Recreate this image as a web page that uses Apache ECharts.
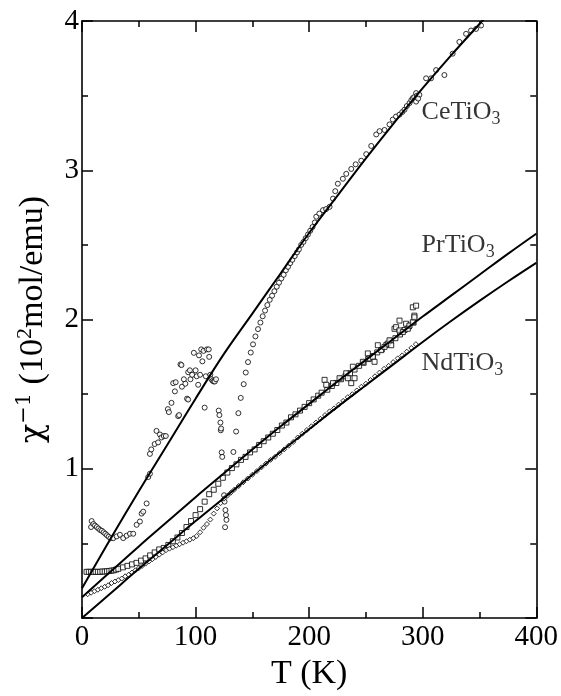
<!DOCTYPE html>
<html><head><meta charset="utf-8">
<script src="https://cdn.jsdelivr.net/npm/echarts@6.0.0/dist/echarts.min.js"></script>
<style>html,body{margin:0;padding:0;background:#fff}#c{width:561px;height:696px}</style>
</head><body><div id="c"></div>
<script>
// Tick values
const xTicks = [0, 100, 200, 300, 400];
const yTicks = [0, 1, 2, 3, 4];

// Fit curves, temperature grid
const fitT = [0,25,50,75,100,125,150,175,200,225,250,275,300,325,350,375,400];
const ceFit = [0.20,0.53,0.85,1.16,1.47,1.77,2.04,2.31,2.58,2.83,3.08,3.32,3.55,3.77,3.98,4.19,null];
const prFit = [0.14,0.31,0.48,0.645,0.81,0.97,1.13,1.285,1.435,1.585,1.73,1.875,2.02,2.16,2.30,2.44,2.575];
const ndFit = [0.00,0.165,0.33,0.49,0.65,0.805,0.96,1.115,1.265,1.415,1.56,1.705,1.85,1.99,2.125,2.255,2.38];

// CeTiO3 data [T, chi^-1]
const ceData = [
[8,0.61],[8.5,0.65],[10,0.63],[11.5,0.62],[13,0.61],[14.5,0.60],[16,0.59],[17.5,0.585],[19,0.575],[20.5,0.565],[22,0.555],[23.5,0.545],[25,0.535],[27.5,0.535],[30.5,0.547],[33.4,0.558],[36.3,0.536],[39.3,0.552],[42.2,0.565],[45.1,0.565],[48.1,0.625],[51,0.647],[52.5,0.70],[53.9,0.713],[56.9,0.768],[58.3,0.945],[59.8,0.967],[59.8,1.10],[61,1.13],[64,1.166],[65.6,1.254],[67,1.177],[68.6,1.23],[70,1.21],[72,1.22],[73.8,1.22],[75.6,1.40],[76.5,1.38],[78.8,1.442],[80.3,1.574],[81.8,1.519],[82.5,1.58],[84.7,1.353],[85.5,1.36],[86.7,1.70],[87.6,1.695],[88,1.55],[89.7,1.60],[91,1.57],[92.5,1.47],[93.5,1.464],[93.5,1.647],[95,1.66],[95.5,1.60],[97,1.63],[98.5,1.777],[100,1.66],[101,1.62],[102.3,1.563],[103,1.76],[104,1.63],[105,1.80],[106,1.72],[107,1.79],[108,1.41],[109,1.62],[110,1.80],[111.6,1.80],[112,1.75],[113,1.63],[114,1.60],[115,1.59],[116,1.585],[117,1.585],[118,1.60],[120.4,1.39],[121,1.36],[121.9,1.31],[122.2,1.258],[122.5,1.27],[123,1.11],[123.5,1.08],[125.1,0.823],[125.5,0.78],[126.3,0.724],[126.8,0.69],[127.2,0.658],[126,0.609],
[133.3,1.113],[135.7,1.25],[137.7,1.373],[139.8,1.475],[142.4,1.567],[144.2,1.645],[146.2,1.715],[148.6,1.779],[150.6,1.834],[152.7,1.887],[155,1.936],[157.1,1.98],[159.1,2.022],[161.2,2.06],[163.2,2.097],[165.3,2.132],[167.4,2.16],[169.4,2.19],[171.5,2.22],[173.5,2.247],[175.5,2.275],[177.6,2.30],[179.5,2.33],[181.4,2.353],[183.3,2.378],[185.2,2.40],[187.3,2.425],[189.3,2.45],[191,2.47],[193,2.50],[195,2.52],[197,2.545],[199,2.57],[201,2.595],[203,2.62],[205,2.65],[206.3,2.689],[209,2.71],[212.2,2.733],[215,2.74],[218,2.755],[221,2.81],[223,2.86],[225.3,2.91],[229.7,2.943],[232.7,2.976],[237.1,3.009],[241,3.04],[245.9,3.064],[250.3,3.108],[254.7,3.163],[259.1,3.24],[262,3.262],[266.4,3.27],[270.8,3.307],[273.7,3.34],[276.5,3.36],[279.6,3.373],[282,3.39],[284,3.406],[286,3.43],[288.4,3.45],[290,3.47],[291.3,3.483],[292.5,3.49],[294.2,3.517],[295,3.50],[297.1,3.505],[294.2,3.46],[296,3.48],[303,3.616],[307.4,3.616],[311.8,3.671],[319.1,3.638],[326.4,3.781],[332.3,3.86],[338.2,3.914],[342.6,3.936],[347,3.947],[351.4,3.97]
];

// PrTiO3 data [T, chi^-1]
const prData = [
[4,0.31],[6,0.31],[8,0.31],[10,0.31],[12,0.31],[14,0.31],[16,0.31],[18,0.312],[20,0.312],[22,0.314],[24,0.316],[26,0.318],[28,0.32],[30,0.325],
[32,0.33],[36,0.34],[40,0.35],[44,0.36],[48,0.37],[52,0.385],[56,0.40],[60,0.42],[64,0.44],[68,0.46],[72,0.47],[76,0.49],[80,0.515],[84,0.54],[88,0.57],[92,0.61],[96,0.65],[100,0.69],[104,0.73],[108,0.78],[112,0.83],
[116,0.86],[120,0.90],[124,0.94],[128,0.975],[132,1.005],[136,1.03],[140,1.06],[144,1.08],[148,1.11],[152,1.13],[156,1.16],[160,1.185],[164,1.21],[168,1.235],[172,1.26],[176,1.29],[180,1.31],[184,1.345],[188,1.365],[192,1.39],[196,1.415],[200,1.44],[204,1.465],[208,1.49],[211,1.51],
[216,1.53],[220,1.555],[224,1.575],[228,1.60],[232,1.62],[236,1.64],[240,1.665],[244,1.69],[248,1.71],[252,1.735],[256,1.755],[260,1.78],[264,1.80],[268,1.83],[272,1.855],[276,1.875],[280,1.90],[284,1.93],[288,1.955],[292,1.98],
[213.6,1.596],[215.1,1.563],[221,1.574],[226.8,1.607],[232.7,1.64],[234.1,1.607],[237.1,1.574],[240,1.607],[238.5,1.684],[247.3,1.717],[251.7,1.773],[253.2,1.74],[256.1,1.75],[257.6,1.717],[260.5,1.828],[263.4,1.795],[266.4,1.817],[269.3,1.839],[272.3,1.828],[270.8,1.861],[275.2,1.938],[276.6,1.949],[279.6,1.993],[279.6,1.927],[282.5,1.916],[285.4,1.972],[286.9,1.938],[288.4,1.96],[291.3,1.982],[292.7,2.026],[291.3,2.082],[294.2,2.093],[292.7,2.015]
];

// NdTiO3 data [T, chi^-1]
const ndData = [
[5,0.16],[8,0.17],[11,0.18],[14,0.19],[17,0.20],[20,0.21],[23,0.22],[26,0.235],[29,0.245],[32,0.255],[35,0.265],[38,0.28],[41,0.29],[44,0.305],[47,0.32],[50,0.335],[53,0.35],[56,0.365],[59,0.38],[62,0.395],[65,0.41],[68,0.425],[71,0.44],[74,0.455],[77,0.465],[80,0.475],[83,0.485],[86,0.495],[89,0.505],[92,0.515],[95,0.525],[98,0.535],[101,0.55],[104,0.575],[107,0.605],[110,0.63],[113,0.66],[116,0.70],[119,0.735],[122,0.77],[125,0.80],[128,0.82],
[131,0.84],[134,0.86],[138,0.885],[142,0.91],[146,0.935],[150,0.96],[154,0.985],[158,1.01],[162,1.035],[166,1.06],[170,1.08],[174,1.105],[178,1.13],[182,1.155],[186,1.18],[190,1.21],[194,1.235],[198,1.26],[202,1.285],[206,1.31],[210,1.335],[214,1.36],[218,1.385],[222,1.405],[226,1.43],[230,1.455],[234,1.48],[238,1.50],[242,1.525],[246,1.55],[250,1.57],[254,1.595],[258,1.62],[262,1.645],[266,1.67],[270,1.69],[274,1.715],[278,1.74],[282,1.76],[286,1.785],[290,1.81],[294,1.835]
];

// Compound labels
const labelNames = ['CeTiO', 'PrTiO', 'NdTiO'];
const labelSub = ['3', '3', '3'];
const labelAnchors = [[299, 3.34], [299, 2.45], [299, 1.66]];

const FONT = 'Liberation Serif';
const GREEK = 'DejaVu Serif';
const zip = (xs, ys) => xs.map((x, i) => [x, ys[i]]);

const chart = echarts.init(document.getElementById('c'), null, {renderer: 'canvas'});

function xAx(pos, showLabel) {
  return {
    type: 'value', position: pos, min: xTicks[0], max: xTicks[xTicks.length-1], interval: 100,
    axisLine: {show: true, onZero: false, lineStyle: {color: '#000', width: 1.6}},
    axisTick: {show: true, inside: true, length: 11, lineStyle: {color: '#000', width: 1.5}},
    minorTick: {show: true, splitNumber: 2, length: 6, lineStyle: {color: '#000', width: 1.5}},
    splitLine: {show: false}, minorSplitLine: {show: false},
    axisLabel: {show: showLabel, fontFamily: FONT, fontSize: 29, color: '#000', margin: 5},
    name: showLabel ? 'T (K)' : '', nameLocation: 'middle', nameGap: 35,
    nameTextStyle: {fontFamily: FONT, fontSize: 34, color: '#000'}
  };
}
function yAx(pos, showLabel) {
  return {
    type: 'value', position: pos, min: yTicks[0], max: yTicks[yTicks.length-1], interval: 1,
    axisLine: {show: true, onZero: false, lineStyle: {color: '#000', width: 1.6}},
    axisTick: {show: true, inside: true, length: 11, lineStyle: {color: '#000', width: 1.5}},
    minorTick: {show: true, splitNumber: 2, length: 6, lineStyle: {color: '#000', width: 1.5}},
    splitLine: {show: false}, minorSplitLine: {show: false},
    axisLabel: {show: showLabel, fontFamily: FONT, fontSize: 29, color: '#000', margin: 3,
      formatter: v => v === 0 ? '' : String(v)},
    name: showLabel ? '{g|χ}{q|−1}{m| (10}{p|2}{m|mol/emu)}' : '',
    nameLocation: 'middle', nameGap: 32, nameRotate: 90,
    nameTextStyle: {fontFamily: FONT, fontSize: 34, color: '#000',
      rich: {
        g: {fontFamily: GREEK, fontSize: 32, color: '#000', lineHeight: 34, verticalAlign: 'bottom'},
        q: {fontFamily: GREEK, fontSize: 21, color: '#000', lineHeight: 50, verticalAlign: 'middle'},
        m: {fontFamily: FONT, fontSize: 34, color: '#000', lineHeight: 34, verticalAlign: 'bottom'},
        p: {fontFamily: FONT, fontSize: 22, color: '#000', lineHeight: 50, verticalAlign: 'middle'}
      }}
  };
}

const markerStyle = {color: '#fff', borderColor: '#000', borderWidth: 1};

const option = {
  animation: false,
  backgroundColor: '#fff',
  textStyle: {fontFamily: FONT},
  grid: {left: 82, right: 24, top: 21, bottom: 70, containLabel: false},
  xAxis: [xAx('bottom', true), xAx('top', false)],
  yAxis: [yAx('left', true), yAx('right', false)],
  series: [
    {name: 'CeTiO3', type: 'scatter', data: ceData, symbol: 'circle', symbolSize: 5, itemStyle: markerStyle, z: 2},
    {name: 'PrTiO3', type: 'scatter', data: prData, symbol: 'rect', symbolSize: 5, itemStyle: markerStyle, z: 2},
    {name: 'NdTiO3', type: 'scatter', data: ndData, symbol: 'diamond', symbolSize: 5, itemStyle: markerStyle, z: 2},
    {type: 'line', data: zip(fitT, ceFit), showSymbol: false, smooth: 0.4, clip: true, lineStyle: {color: '#000', width: 2}, z: 5},
    {type: 'line', data: zip(fitT, prFit), showSymbol: false, smooth: 0.4, clip: true, lineStyle: {color: '#000', width: 2}, z: 5},
    {type: 'line', data: zip(fitT, ndFit), showSymbol: false, smooth: 0.4, clip: true, lineStyle: {color: '#000', width: 2}, z: 5},
    {type: 'scatter', symbolSize: 0, silent: true, z: 6,
      data: labelAnchors.map((p, i) => ({value: p, name: labelNames[i]})),
      label: {show: true, position: 'inside', align: 'left', verticalAlign: 'middle',
        formatter: p => '{m|' + labelNames[p.dataIndex] + '}{s|' + labelSub[p.dataIndex] + '}',
        rich: {
          m: {fontFamily: FONT, fontSize: 26, color: '#000', lineHeight: 26, verticalAlign: 'top'},
          s: {fontFamily: FONT, fontSize: 18, color: '#000', lineHeight: 40, verticalAlign: 'middle'}
        }}
    }
  ]
};

chart.setOption(option);
// redraw once fonts are settled, so all texts pick up the serif face
function redraw() { chart.clear(); chart.setOption(option, true); }
if (document.fonts && document.fonts.load) {
  Promise.all([
    document.fonts.load('29px "Liberation Serif"', '0123456789'),
    document.fonts.load('32px "DejaVu Serif"', 'χ−')
  ]).then(redraw, redraw);
}
setTimeout(redraw, 150);
</script>
</body></html>
